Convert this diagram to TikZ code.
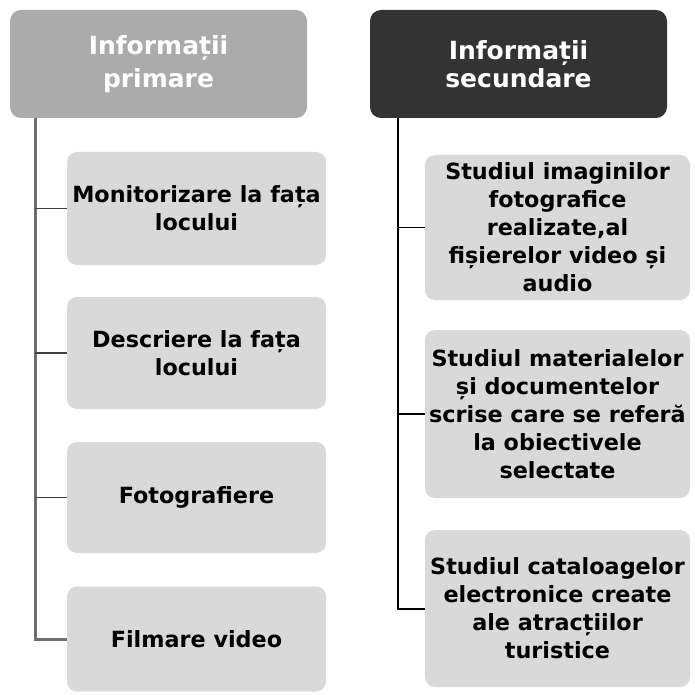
\documentclass[tikz,border=0pt]{standalone}
\usepackage{fontspec}
\setmainfont{DejaVu Sans}
\begin{document}
\begin{tikzpicture}[x=1pt,y=-1pt,
  box/.style={rectangle,rounded corners=10pt,fill=boxgray,draw=none,align=center,
    font=\fontsize{22.3}{28}\selectfont\bfseries,text=black,inner sep=0pt},
  hdr/.style={rectangle,rounded corners=11pt,draw=none,align=center,
    font=\fontsize{25}{28}\selectfont\bfseries,text=white,inner sep=0pt,
    minimum width=297pt,minimum height=108pt},
  trunkL/.style={draw=linegray,line width=3pt},
  branchL/.style={draw=branchgray,line width=1.6pt},
  trunkR/.style={draw=black,line width=2pt},
  branchR/.style={draw=black,line width=1.2pt}]
\definecolor{boxgray}{HTML}{D9D9D9}
\definecolor{hdrlight}{HTML}{ABABAB}
\definecolor{hdrdark}{HTML}{333333}
\definecolor{linegray}{HTML}{6E6E6E}
\definecolor{branchgray}{HTML}{404040}
\useasboundingbox (0,0) rectangle (694,695);
\fill[white] (0,0) rectangle (694,695);
% headers
\node[hdr,fill=hdrlight,font=\fontsize{25}{33}\selectfont\bfseries] (lh) at (158.5,64) {Informații\\primare};
\node[hdr,fill=hdrdark] (rh) at (518.5,64) {Informații\\secundare};
% left boxes
\node[box,minimum width=259pt,minimum height=113pt] (l1) at (196.5,208.5) {Monitorizare la fața\\locului};
\node[box,minimum width=259pt,minimum height=112pt] (l2) at (196.5,353) {Descriere la fața\\locului};
\node[box,minimum width=259pt,minimum height=111pt] (l3) at (196.5,497.5) {Fotografiere};
\node[box,minimum width=259pt,minimum height=105pt] (l4) at (196.5,639) {Filmare video};
% right boxes
\node[box,minimum width=265pt,minimum height=145pt] (r1) at (557.5,227.5) {Studiul imaginilor\\fotografice\\realizate,al\\fișierelor video și\\audio};
\node[box,minimum width=265pt,minimum height=168pt] (r2) at (557.5,414) {Studiul materialelor\\și documentelor\\scrise care se referă\\la obiectivele\\selectate};
\node[box,minimum width=265pt,minimum height=157pt] (r3) at (557.5,608.5) {Studiul cataloagelor\\electronice create\\ale atracțiilor\\turistice};
% trunks
\coordinate (lt) at (35,118);
\coordinate (rt) at (398,118);
\draw[trunkL] (lt) |- (l4.west);
\draw[branchL] (lt |- l1.west) -- (l1.west);
\draw[branchL] (lt |- l2.west) -- (l2.west);
\draw[branchL] (lt |- l3.west) -- (l3.west);
\draw[trunkR] (rt) |- (r3.west);
\draw[branchR] (rt |- r1.west) -- (r1.west);
\draw[branchR] (rt |- r2.west) -- (r2.west);
\end{tikzpicture}
\end{document}
